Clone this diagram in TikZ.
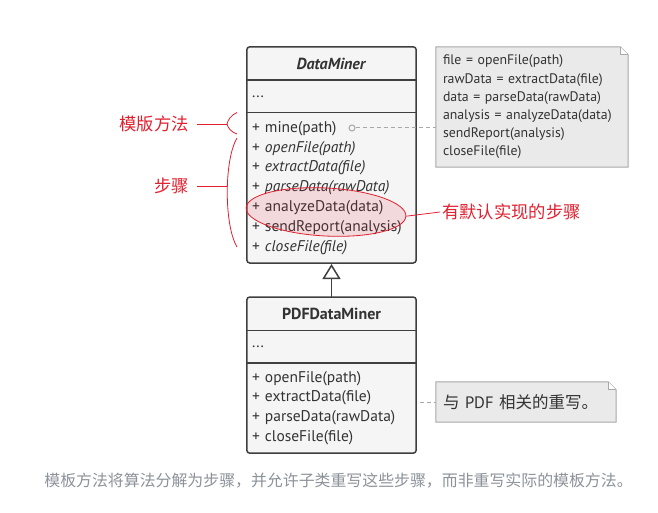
\documentclass[tikz,border=0pt]{standalone}
\usepackage{fontspec}
\setmainfont{PT Sans}
\newfontfamily\cjk{Noto Sans CJK SC}
\usetikzlibrary{positioning, arrows.meta, calc, shapes.geometric, backgrounds}
\definecolor{boxline}{HTML}{3F3F3F}
\definecolor{boxfill}{HTML}{F5F5F5}
\definecolor{boxtext}{HTML}{333333}
\definecolor{notefill}{HTML}{EAEAEA}
\definecolor{noteline}{HTML}{A8A8A8}
\definecolor{markred}{HTML}{E0202F}
\definecolor{captiongray}{HTML}{8C929A}

\begin{document}
\begin{tikzpicture}[x=1pt, y=1pt, node distance=0pt,
	part/.style={text width=159pt, inner xsep=5pt, inner ysep=0pt, text=boxtext},
	head/.style={part, minimum height=33pt, align=center, font=\fontsize{16}{18}\selectfont\bfseries},
	fields/.style={part, minimum height=32pt, align=left, font=\fontsize{15.5}{18}\selectfont},
	methods/.style={part, align=left, font=\fontsize{15.5}{19.8}\selectfont},
	border/.style={draw=boxline, line width=1.5pt, rounded corners=3pt},
	sep/.style={draw=boxline, line width=1.5pt},
	note/.style={inner xsep=7pt, inner ysep=0pt, align=left, text=boxtext},
	notedraw/.style={draw=noteline, line width=1pt, fill=notefill},
	notelink/.style={draw=noteline, line width=1pt, dash pattern=on 4pt off 3pt},
	redlabel/.style={text=markred, font=\cjk\fontsize{17.3}{20}\selectfont, inner sep=2pt},
	redline/.style={draw=markred, line width=0.8pt}
	]
	\useasboundingbox (0,0) rectangle (658,512);

	% DataMiner
	\node[head] (dm) at (331.5,448.5) {\textit{DataMiner}};
	\node[fields, below=of dm] (dmf) {...};
	\node[methods, below=of dmf, minimum height=150pt] (dmm) {+ mine(path)\\
		+ \textit{openFile(path)}\\
		+ \textit{extractData(file)}\\
		+ \textit{parseData(rawData)}\\
		+ analyzeData(data)\\
		+ sendReport(analysis)\\
		+ \textit{closeFile(file)}};

	% PDFDataMiner
	\node[head, below=34pt of dmm] (pdf) {PDFDataMiner};
	\node[fields, below=of pdf] (pdff) {...};
	\node[methods, below=of pdff, minimum height=90pt] (pdfm) {+ openFile(path)\\
		+ extractData(file)\\
		+ parseData(rawData)\\
		+ closeFile(file)};

	% Notes
	\node[note, text width=178pt, minimum height=120pt, font=\fontsize{13.8}{18.2}\selectfont] (steps) at (532,405) {file = openFile(path)\\
		rawData = extractData(file)\\
		data = parseData(rawData)\\
		analysis = analyzeData(data)\\
		sendReport(analysis)\\
		closeFile(file)};
	\node[note, text width=166pt, minimum height=40pt, font=\fontsize{16.5}{18}\selectfont] (pdfnote) at (526,110) {{\cjk 与} PDF {\cjk 相关的重写。}};

	\begin{scope}[on background layer]
		\fill[boxfill, rounded corners=3pt] (dm.north west) rectangle (dmm.south east);
		\fill[boxfill, rounded corners=3pt] (pdf.north west) rectangle (pdfm.south east);
		\foreach \n in {steps, pdfnote} {
			\draw[notedraw] (\n.north west) -- ([xshift=-8pt]\n.north east) -- ([yshift=-8pt]\n.north east) -- (\n.south east) -- (\n.south west) -- cycle;
			\draw[draw=noteline, line width=1pt, fill=white] ([xshift=-8pt]\n.north east) -- ([xshift=-8pt, yshift=-8pt]\n.north east) -- ([yshift=-8pt]\n.north east);
		}
	\end{scope}

	% Borders
	\draw[border] (dm.north west) rectangle (dmm.south east);
	\draw[sep] (dmf.north west) -- (dmf.north east);
	\draw[sep] (dmm.north west) -- (dmm.north east);
	\draw[border] (pdf.north west) rectangle (pdfm.south east);
	\draw[sep] (pdff.north west) -- (pdff.north east);
	\draw[sep] (pdfm.north west) -- (pdfm.north east);

	% Inheritance
	\draw[draw=boxline, line width=1.5pt, -{Triangle[open, width=18pt, length=15pt, line width=1.5pt]}] (pdf.north) -- ([yshift=-1pt]dmm.south);

	% Note links
	\node[circle, draw=noteline, line width=1pt, fill=boxfill, inner sep=0pt, minimum size=6pt] (hook) at (352,384) {};
	\draw[notelink] (hook) -- (steps.west |- hook);
	\draw[notelink] ([xshift=4pt]pdfm.east |- pdfnote) -- (pdfnote.west);

	% Red marks
	\node[redlabel, anchor=east] (tmpl) at (191,388) {模版方法};
	\node[redlabel, anchor=east] (stepl) at (191,326) {步骤};
	\coordinate (tmpltip) at (227,388);
	\coordinate (steptip) at (227,326);
	\draw[redline] ([xshift=6pt]tmpl.east) -- (tmpltip);
	\draw[redline] ([xshift=6pt]stepl.east) -- (steptip);
	\draw[redline] (237,399.5) .. controls (231,397) and (228,392) .. (tmpltip) .. controls (228,384) and (231,380) .. (237,378);
	\draw[redline] (237,374) .. controls (224,352) and (224,287) .. (237,265);

	\node[ellipse, draw=markred, line width=0.8pt, fill=markred, fill opacity=0.13, minimum width=160pt, minimum height=48pt, rotate=-3] (hot) at (326,300) {};
	\node[redlabel, anchor=west] (defl) at (440,300) {有默认实现的步骤};
	\draw[redline] (hot.east) -- (defl.west);

	% Caption
	\node[text=captiongray, font=\cjk\fontsize{15.9}{18}\selectfont] (cap) at (338.5,31) {模板方法将算法分解为步骤，并允许子类重写这些步骤，而非重写实际的模板方法。};
\end{tikzpicture}
\end{document}
